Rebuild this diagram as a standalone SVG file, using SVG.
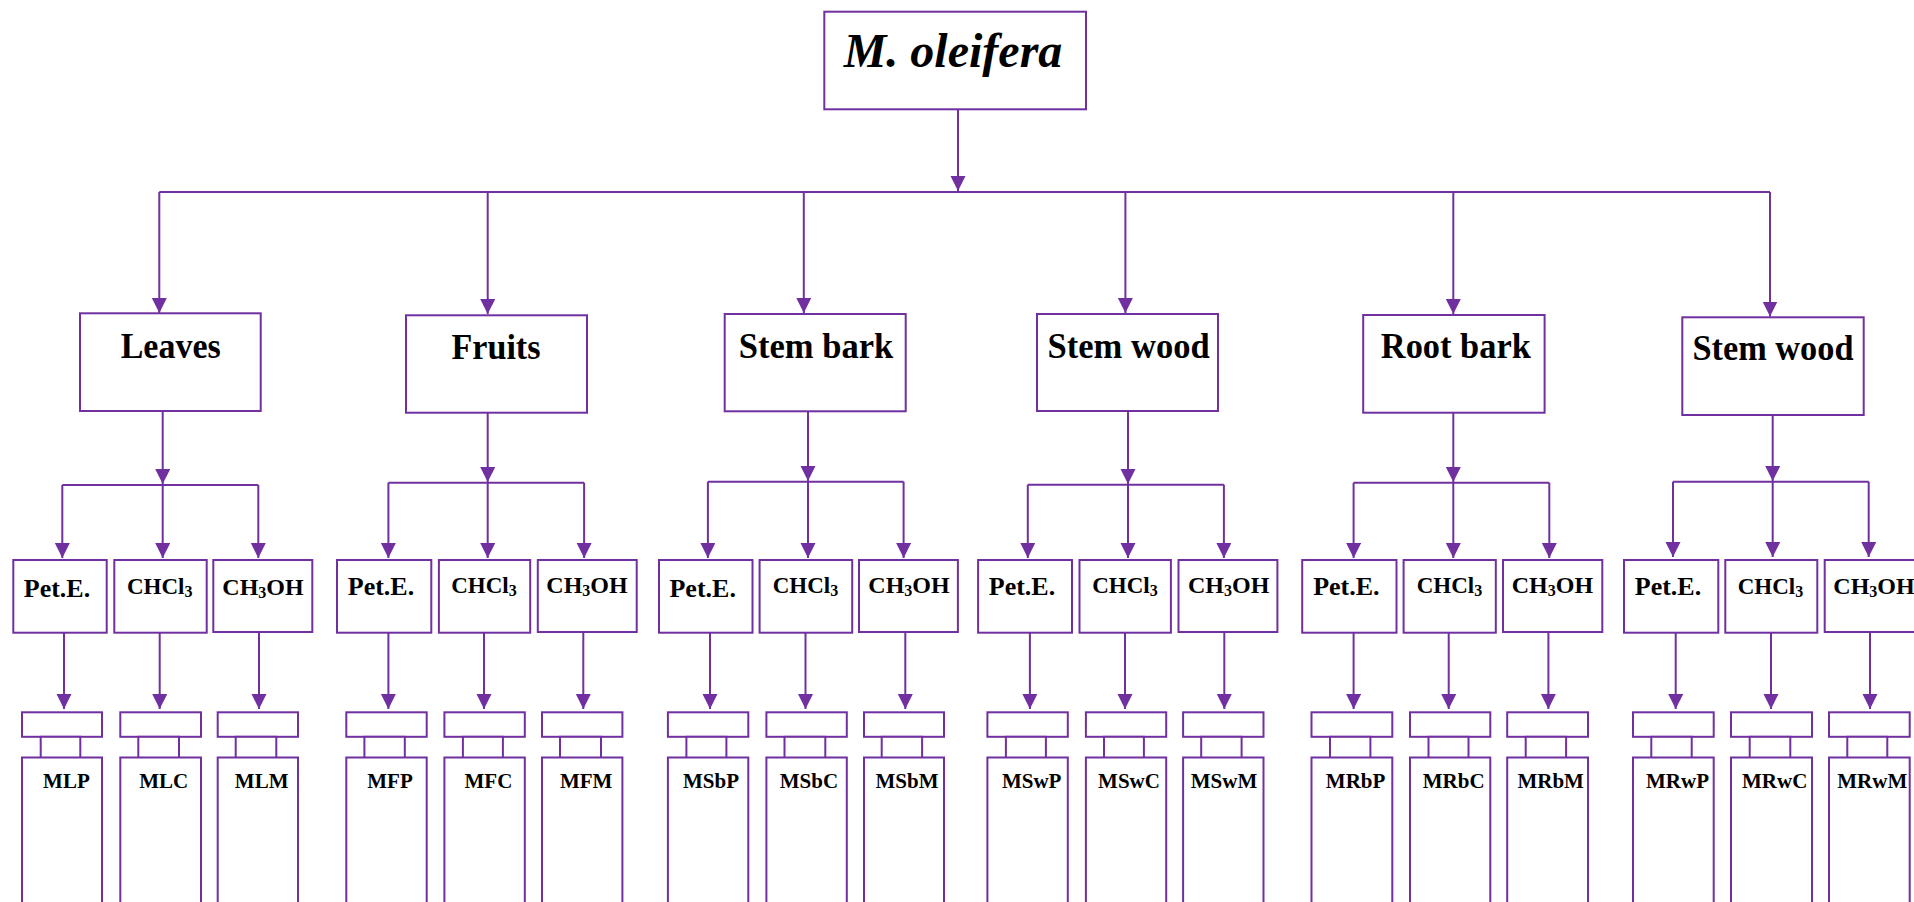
<svg xmlns="http://www.w3.org/2000/svg" width="1914" height="902" viewBox="0 0 1914 902">
<style>
.box{fill:#fff;stroke:#7030A0;stroke-width:2}
.ln{fill:none;stroke:#7030A0;stroke-width:2}
.ar{fill:none;stroke:#7030A0;stroke-width:2;marker-end:url(#ah)}
.t{font-family:"Liberation Serif","Times New Roman",serif;font-weight:bold;fill:#000;text-anchor:middle}
.l1{font-size:35px}
.pe{font-size:26px}
.ch{font-size:23px}
.me{font-size:24px}
.sb{font-size:16px}
.vl{font-size:21px}
</style>
<defs>
<marker id="ah" markerUnits="userSpaceOnUse" markerWidth="16" markerHeight="16" refX="15" refY="7.5" orient="auto">
<path d="M0,0 L15,7.5 L0,15 z" fill="#7030A0"/>
</marker>
</defs>

<g id="connectors">
<line class="ar" x1="958" y1="109" x2="958" y2="191"/>
<line class="ln" x1="159.3" y1="192" x2="1770" y2="192"/>
<line class="ar" x1="159.3" y1="192" x2="159.3" y2="313"/>
<line class="ar" x1="487.7" y1="192" x2="487.7" y2="314"/>
<line class="ar" x1="803.8" y1="192" x2="803.8" y2="313"/>
<line class="ar" x1="1125.4" y1="192" x2="1125.4" y2="313"/>
<line class="ar" x1="1453.3" y1="192" x2="1453.3" y2="314"/>
<line class="ar" x1="1770" y1="192" x2="1770" y2="316.5"/>

<!-- Leaves branch -->
<line class="ar" x1="162.7" y1="411" x2="162.7" y2="484"/>
<line class="ln" x1="62.3" y1="485" x2="258.3" y2="485"/>
<line class="ar" x1="62.3" y1="485" x2="62.3" y2="558"/>
<line class="ar" x1="162.7" y1="485" x2="162.7" y2="558"/>
<line class="ar" x1="258.3" y1="485" x2="258.3" y2="558"/>
<!-- Fruits branch -->
<line class="ar" x1="487.7" y1="412.7" x2="487.7" y2="482"/>
<line class="ln" x1="388.4" y1="482.7" x2="584.1" y2="482.7"/>
<line class="ar" x1="388.4" y1="482.7" x2="388.4" y2="558"/>
<line class="ar" x1="487.7" y1="482.7" x2="487.7" y2="558"/>
<line class="ar" x1="584.1" y1="482.7" x2="584.1" y2="558"/>
<!-- Stem bark branch -->
<line class="ar" x1="808" y1="411.3" x2="808" y2="481"/>
<line class="ln" x1="707.9" y1="481.7" x2="903.6" y2="481.7"/>
<line class="ar" x1="707.9" y1="481.7" x2="707.9" y2="558"/>
<line class="ar" x1="808" y1="481.7" x2="808" y2="558"/>
<line class="ar" x1="903.6" y1="481.7" x2="903.6" y2="558"/>
<!-- Stem wood branch -->
<line class="ar" x1="1128" y1="411" x2="1128" y2="484"/>
<line class="ln" x1="1027.8" y1="484.7" x2="1223.9" y2="484.7"/>
<line class="ar" x1="1027.8" y1="484.7" x2="1027.8" y2="558"/>
<line class="ar" x1="1128" y1="484.7" x2="1128" y2="558"/>
<line class="ar" x1="1223.9" y1="484.7" x2="1223.9" y2="558"/>
<!-- Root bark branch -->
<line class="ar" x1="1453.3" y1="412.7" x2="1453.3" y2="482"/>
<line class="ln" x1="1353.6" y1="482.7" x2="1549.3" y2="482.7"/>
<line class="ar" x1="1353.6" y1="482.7" x2="1353.6" y2="558"/>
<line class="ar" x1="1453.3" y1="482.7" x2="1453.3" y2="558"/>
<line class="ar" x1="1549.3" y1="482.7" x2="1549.3" y2="558"/>
<!-- Stem wood 2 branch -->
<line class="ar" x1="1772.7" y1="415" x2="1772.7" y2="481"/>
<line class="ln" x1="1673" y1="481.7" x2="1868.7" y2="481.7"/>
<line class="ar" x1="1673" y1="481.7" x2="1673" y2="557"/>
<line class="ar" x1="1772.7" y1="481.7" x2="1772.7" y2="557"/>
<line class="ar" x1="1868.7" y1="481.7" x2="1868.7" y2="557"/>

<!-- solvent to vial arrows -->
<line class="ar" x1="64" y1="632.7" x2="64" y2="709"/>
<line class="ar" x1="159.7" y1="632.7" x2="159.7" y2="709"/>
<line class="ar" x1="259" y1="632.7" x2="259" y2="709"/>
<line class="ar" x1="388.4" y1="632.7" x2="388.4" y2="709"/>
<line class="ar" x1="484" y1="632.7" x2="484" y2="709"/>
<line class="ar" x1="583.3" y1="632.7" x2="583.3" y2="709"/>
<line class="ar" x1="710" y1="632.7" x2="710" y2="709"/>
<line class="ar" x1="805.5" y1="632.7" x2="805.5" y2="709"/>
<line class="ar" x1="905.3" y1="632.7" x2="905.3" y2="709"/>
<line class="ar" x1="1029.9" y1="632.7" x2="1029.9" y2="709"/>
<line class="ar" x1="1125" y1="632.7" x2="1125" y2="709"/>
<line class="ar" x1="1224.3" y1="632.7" x2="1224.3" y2="709"/>
<line class="ar" x1="1353.6" y1="632.7" x2="1353.6" y2="709"/>
<line class="ar" x1="1448.7" y1="632.7" x2="1448.7" y2="709"/>
<line class="ar" x1="1548.4" y1="632.7" x2="1548.4" y2="709"/>
<line class="ar" x1="1675.7" y1="632.7" x2="1675.7" y2="709"/>
<line class="ar" x1="1771" y1="632.7" x2="1771" y2="709"/>
<line class="ar" x1="1870" y1="632.7" x2="1870" y2="709"/>
</g>

<g id="root">
<rect class="box" x="824.3" y="11.7" width="261.7" height="97.6"/>
<text class="t" x="953" y="66.7" font-size="48" font-style="italic">M. oleifera</text>
</g>

<g id="leaves">
<rect class="box" x="80" y="313.3" width="180.7" height="97.7"/>
<text class="t l1" x="170.7" y="358.3" textLength="100" lengthAdjust="spacingAndGlyphs">Leaves</text>
</g>
<g id="fruits">
<rect class="box" x="406" y="315.3" width="181" height="97.4"/>
<text class="t l1" x="496" y="359" textLength="89" lengthAdjust="spacingAndGlyphs">Fruits</text>
</g>
<g id="stembark">
<rect class="box" x="724.7" y="314" width="181" height="97.3"/>
<text class="t l1" x="816" y="358.3" textLength="154.5" lengthAdjust="spacingAndGlyphs">Stem bark</text>
</g>
<g id="stemwood">
<rect class="box" x="1037" y="314" width="181" height="97"/>
<text class="t l1" x="1128.6" y="358.3" textLength="162" lengthAdjust="spacingAndGlyphs">Stem wood</text>
</g>
<g id="rootbark">
<rect class="box" x="1363.2" y="315" width="181.4" height="97.7"/>
<text class="t l1" x="1455.8" y="358.3" textLength="150" lengthAdjust="spacingAndGlyphs">Root bark</text>
</g>
<g id="stemwood2">
<rect class="box" x="1682.3" y="317.3" width="181.4" height="97.7"/>
<text class="t l1" x="1773" y="360" textLength="161" lengthAdjust="spacingAndGlyphs">Stem wood</text>
</g>

<!-- solvent boxes -->
<g id="leaves-pet"><rect class="box" x="13.3" y="560" width="93.4" height="72.7"/><text class="t pe" x="57" y="596.7">Pet.E.</text></g>
<g id="leaves-chcl3"><rect class="box" x="114.3" y="560" width="92.4" height="72.7"/><text class="t ch" x="159.7" y="594">CHCl<tspan class="sb" dy="3">3</tspan></text></g>
<g id="leaves-ch3oh"><rect class="box" x="213.3" y="560" width="99" height="72"/><text class="t me" x="263" y="595">CH<tspan class="sb" dy="3">3</tspan><tspan dy="-3">OH</tspan></text></g>

<g id="fruits-pet"><rect class="box" x="337" y="560" width="94.3" height="72.7"/><text class="t pe" x="381" y="595">Pet.E.</text></g>
<g id="fruits-chcl3"><rect class="box" x="438.9" y="560" width="91.3" height="72.7"/><text class="t ch" x="484" y="592.7">CHCl<tspan class="sb" dy="3">3</tspan></text></g>
<g id="fruits-ch3oh"><rect class="box" x="537.8" y="560" width="98.9" height="72"/><text class="t me" x="587" y="592.7">CH<tspan class="sb" dy="3">3</tspan><tspan dy="-3">OH</tspan></text></g>

<g id="stembark-pet"><rect class="box" x="659" y="560" width="93.5" height="72.7"/><text class="t pe" x="702.7" y="596.7">Pet.E.</text></g>
<g id="stembark-chcl3"><rect class="box" x="759.6" y="560" width="92.6" height="72.7"/><text class="t ch" x="805.5" y="592.7">CHCl<tspan class="sb" dy="3">3</tspan></text></g>
<g id="stembark-ch3oh"><rect class="box" x="859" y="560" width="98.9" height="72"/><text class="t me" x="909" y="592.7">CH<tspan class="sb" dy="3">3</tspan><tspan dy="-3">OH</tspan></text></g>

<g id="stemwood-pet"><rect class="box" x="978.1" y="560" width="93.9" height="72.7"/><text class="t pe" x="1022" y="595">Pet.E.</text></g>
<g id="stemwood-chcl3"><rect class="box" x="1079.5" y="560" width="91.4" height="72.7"/><text class="t ch" x="1125" y="592.7">CHCl<tspan class="sb" dy="3">3</tspan></text></g>
<g id="stemwood-ch3oh"><rect class="box" x="1178.5" y="560" width="98.9" height="72"/><text class="t me" x="1228.7" y="592.7">CH<tspan class="sb" dy="3">3</tspan><tspan dy="-3">OH</tspan></text></g>

<g id="rootbark-pet"><rect class="box" x="1302.2" y="560" width="94.3" height="72.7"/><text class="t pe" x="1346.4" y="595">Pet.E.</text></g>
<g id="rootbark-chcl3"><rect class="box" x="1403.6" y="560" width="92.2" height="72.7"/><text class="t ch" x="1449.5" y="592.7">CHCl<tspan class="sb" dy="3">3</tspan></text></g>
<g id="rootbark-ch3oh"><rect class="box" x="1503" y="560" width="99.3" height="72"/><text class="t me" x="1552.4" y="592.7">CH<tspan class="sb" dy="3">3</tspan><tspan dy="-3">OH</tspan></text></g>

<g id="stemwood2-pet"><rect class="box" x="1624" y="560" width="94.3" height="72.7"/><text class="t pe" x="1668" y="595">Pet.E.</text></g>
<g id="stemwood2-chcl3"><rect class="box" x="1725.3" y="560" width="92" height="72.7"/><text class="t ch" x="1770.5" y="594">CHCl<tspan class="sb" dy="3">3</tspan></text></g>
<g id="stemwood2-ch3oh"><rect class="box" x="1824.7" y="560" width="99.3" height="72"/><text class="t me" x="1874" y="594">CH<tspan class="sb" dy="3">3</tspan><tspan dy="-3">OH</tspan></text></g>

<!-- vials -->
<g id="vial-MLP"><rect class="box" x="22" y="712.3" width="80" height="24.5"/><rect class="box" x="40.7" y="736.8" width="39.6" height="21.2"/><path class="box" d="M22,912 V757.5 H102 V912"/><text class="t vl" x="66.4" y="788.3">MLP</text></g>
<g id="vial-MLC"><rect class="box" x="120.3" y="712.3" width="80.7" height="24.5"/><rect class="box" x="138.3" y="736.8" width="40.7" height="21.2"/><path class="box" d="M120.3,912 V757.5 H201 V912"/><text class="t vl" x="163.7" y="788.3">MLC</text></g>
<g id="vial-MLM"><rect class="box" x="217.7" y="712.3" width="80.3" height="24.5"/><rect class="box" x="235.7" y="736.8" width="40.6" height="21.2"/><path class="box" d="M217.7,912 V757.5 H298 V912"/><text class="t vl" x="261.7" y="788.3">MLM</text></g>

<g id="vial-MFP"><rect class="box" x="346.3" y="712.3" width="80.4" height="24.5"/><rect class="box" x="364.4" y="736.8" width="40.4" height="21.2"/><path class="box" d="M346.3,912 V757.5 H426.7 V912"/><text class="t vl" x="390" y="788.3">MFP</text></g>
<g id="vial-MFC"><rect class="box" x="444.4" y="712.3" width="80.4" height="24.5"/><rect class="box" x="462.9" y="736.8" width="40" height="21.2"/><path class="box" d="M444.4,912 V757.5 H524.8 V912"/><text class="t vl" x="488.4" y="788.3">MFC</text></g>
<g id="vial-MFM"><rect class="box" x="542" y="712.3" width="80.4" height="24.5"/><rect class="box" x="560" y="736.8" width="41" height="21.2"/><path class="box" d="M542,912 V757.5 H622.4 V912"/><text class="t vl" x="586.2" y="788.3">MFM</text></g>

<g id="vial-MSbP"><rect class="box" x="667.9" y="712.3" width="80.4" height="24.5"/><rect class="box" x="686.4" y="736.8" width="40" height="21.2"/><path class="box" d="M667.9,912 V757.5 H748.3 V912"/><text class="t vl" x="711" y="788.3">MSbP</text></g>
<g id="vial-MSbC"><rect class="box" x="766.4" y="712.3" width="80.4" height="24.5"/><rect class="box" x="784.5" y="736.8" width="40.8" height="21.2"/><path class="box" d="M766.4,912 V757.5 H846.8 V912"/><text class="t vl" x="808.9" y="788.3">MSbC</text></g>
<g id="vial-MSbM"><rect class="box" x="864" y="712.3" width="80" height="24.5"/><rect class="box" x="881.7" y="736.8" width="40.4" height="21.2"/><path class="box" d="M864,912 V757.5 H944 V912"/><text class="t vl" x="907" y="788.3">MSbM</text></g>

<g id="vial-MSwP"><rect class="box" x="987.4" y="712.3" width="80.4" height="24.5"/><rect class="box" x="1005.9" y="736.8" width="40" height="21.2"/><path class="box" d="M987.4,912 V757.5 H1067.8 V912"/><text class="t vl" x="1031.7" y="788.3">MSwP</text></g>
<g id="vial-MSwC"><rect class="box" x="1085.9" y="712.3" width="80.3" height="24.5"/><rect class="box" x="1104" y="736.8" width="39.9" height="21.2"/><path class="box" d="M1085.9,912 V757.5 H1166.2 V912"/><text class="t vl" x="1129" y="788.3">MSwC</text></g>
<g id="vial-MSwM"><rect class="box" x="1183.1" y="712.3" width="80.4" height="24.5"/><rect class="box" x="1201.2" y="736.8" width="40.4" height="21.2"/><path class="box" d="M1183.1,912 V757.5 H1263.5 V912"/><text class="t vl" x="1224" y="788.3">MSwM</text></g>

<g id="vial-MRbP"><rect class="box" x="1311.5" y="712.3" width="80.8" height="24.5"/><rect class="box" x="1330" y="736.8" width="40.4" height="21.2"/><path class="box" d="M1311.5,912 V757.5 H1392.3 V912"/><text class="t vl" x="1355.6" y="788.3">MRbP</text></g>
<g id="vial-MRbC"><rect class="box" x="1410" y="712.3" width="80.3" height="24.5"/><rect class="box" x="1428.5" y="736.8" width="40" height="21.2"/><path class="box" d="M1410,912 V757.5 H1490.3 V912"/><text class="t vl" x="1453.7" y="788.3">MRbC</text></g>
<g id="vial-MRbM"><rect class="box" x="1507.2" y="712.3" width="80.8" height="24.5"/><rect class="box" x="1525.7" y="736.8" width="40.4" height="21.2"/><path class="box" d="M1507.2,912 V757.5 H1588 V912"/><text class="t vl" x="1550.7" y="788.3">MRbM</text></g>

<g id="vial-MRwP"><rect class="box" x="1633" y="712.3" width="80.7" height="24.5"/><rect class="box" x="1651.3" y="736.8" width="40.4" height="21.2"/><path class="box" d="M1633,912 V757.5 H1713.7 V912"/><text class="t vl" x="1677.5" y="788.3">MRwP</text></g>
<g id="vial-MRwC"><rect class="box" x="1731" y="712.3" width="81" height="24.5"/><rect class="box" x="1749.7" y="736.8" width="40.6" height="21.2"/><path class="box" d="M1731,912 V757.5 H1812 V912"/><text class="t vl" x="1774.7" y="788.3">MRwC</text></g>
<g id="vial-MRwM"><rect class="box" x="1829" y="712.3" width="80.7" height="24.5"/><rect class="box" x="1847.3" y="736.8" width="40" height="21.2"/><path class="box" d="M1829,912 V757.5 H1909.7 V912"/><text class="t vl" x="1872.3" y="788.3">MRwM</text></g>
</svg>
